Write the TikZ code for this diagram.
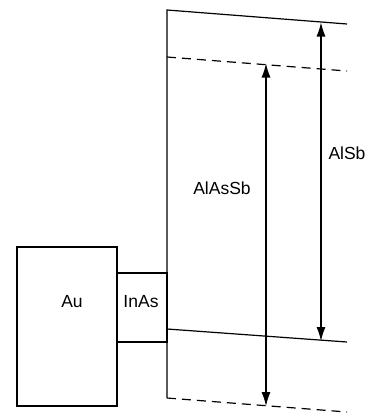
\documentclass[tikz,border=0pt]{standalone}
\usepackage{fontspec}
\setmainfont{Liberation Sans}
\usetikzlibrary{arrows.meta}
\begin{document}
\begin{tikzpicture}[x=1pt,y=-1pt,
  edge/.style={line width=1.2pt},
  dline/.style={line width=1.2pt,dash pattern=on 9pt off 6pt},
  dim/.style={line width=1.1pt,{Latex[length=14pt,width=9pt]}-{Latex[length=14pt,width=9pt]}},
  lab/.style={font=\fontsize{17.5}{20}\selectfont,inner sep=0pt}]
\useasboundingbox (0,0) rectangle (368,416);
% layer boundaries
\coordinate (tl) at (167,10);  \coordinate (tr) at (347,24);
\coordinate (dl) at (167,57);  \coordinate (dr) at (347,71);
\coordinate (ml) at (167,329); \coordinate (mr) at (347,342);
\coordinate (bl) at (167,398); \coordinate (br) at (347,412);
\draw[edge] (bl) -- (tl) -- (tr);
\draw[dline] (dl) -- (dr);
\draw[edge] (ml) -- (mr);
\draw[dline] (bl) -- (br);
% boxes
\node[draw,line width=1.2pt,minimum width=100pt,minimum height=159pt,inner sep=0pt] (au) at (67,326.5) {};
\node[draw,line width=1.2pt,minimum width=50pt,minimum height=69pt,inner sep=0pt] (inas) at (142,307.5) {};
\node[lab] (aulab) at (72,302) {Au};
\node[lab] (inaslab) at (141,302) {InAs};
% dimension arrows
\coordinate (a1t) at (321,22.5); \coordinate (a1b) at (321,341);
\coordinate (a2t) at (266,63.5); \coordinate (a2b) at (266,406);
\draw[dim] (a1t) -- (a1b);
\draw[dim] (a2t) -- (a2b);
\node[lab] (alsb) at (347,153) {AlSb};
\node[lab] (alassb) at (222,188) {AlAsSb};
\end{tikzpicture}
\end{document}
